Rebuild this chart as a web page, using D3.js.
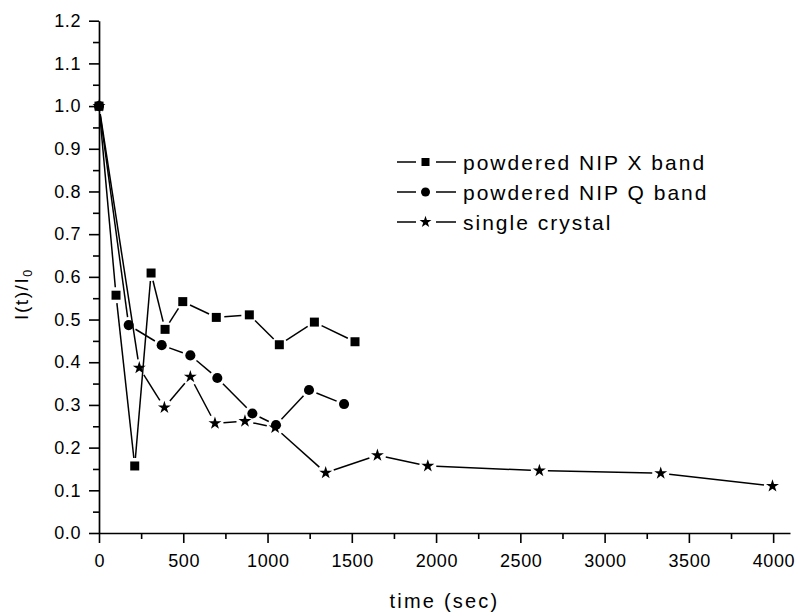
<!DOCTYPE html>
<html>
<head>
<meta charset="utf-8">
<script src="https://cdn.jsdelivr.net/npm/d3@7"></script>
<style>
  html, body { margin: 0; padding: 0; background: #fff; }
  svg { display: block; }
  text { font-family: "Liberation Sans", Arial, sans-serif; fill: #000; }
</style>
</head>
<body>
<svg id="chart" width="798" height="615"></svg>
<script>
// Decay of the normalised signal intensity I(t)/I0 with time
const xbandTime = [0, 101, 212, 309, 392, 497, 696, 892, 1070, 1278, 1519];
const xbandValue = [1.0, 0.557, 0.157, 0.609, 0.477, 0.542, 0.505, 0.511, 0.441, 0.494, 0.448];

const qbandTime = [0, 176, 372, 542, 702, 910, 1050, 1246, 1454];
const qbandValue = [1.0, 0.487, 0.440, 0.416, 0.363, 0.280, 0.253, 0.335, 0.302];

const crystalTime = [0, 239, 388, 542, 688, 866, 1045, 1345, 1652, 1951, 2613, 3333, 3996];
const crystalValue = [1.0, 0.387, 0.294, 0.366, 0.257, 0.262, 0.247, 0.141, 0.182, 0.157, 0.146, 0.140, 0.110];

const seriesNames = ["powdered NIP X band", "powdered NIP Q band", "single crystal"];

const xTicks = [0, 500, 1000, 1500, 2000, 2500, 3000, 3500, 4000];
const yTicks = [0.0, 0.1, 0.2, 0.3, 0.4, 0.5, 0.6, 0.7, 0.8, 0.9, 1.0, 1.1, 1.2];

const xTitle = "time (sec)";

const svg = d3.select("#chart");
const plotLeft = 99, plotRight = 790, plotTop = 20.7, plotBottom = 533;

const x = d3.scaleLinear().domain([0, 4100]).range([plotLeft, plotRight]);
const y = d3.scaleLinear().domain([0, 1.2]).range([plotBottom, plotTop]);

const series = [
  { name: seriesNames[0], t: xbandTime, v: xbandValue, shape: d3.symbolSquare, size: 81, gap: 8 },
  { name: seriesNames[1], t: qbandTime, v: qbandValue, shape: d3.symbolCircle, size: 80, gap: 8 },
  { name: seriesNames[2], t: crystalTime, v: crystalValue, shape: d3.symbolStar, size: 52, gap: 8.5 }
];

// --- axes -------------------------------------------------------------
const axisColor = "#000";

function styleAxis(g) {
  g.selectAll("path.domain").attr("stroke", axisColor).attr("stroke-width", 1.7);
  g.selectAll(".tick line").attr("stroke", axisColor).attr("stroke-width", 1.6);
  g.selectAll(".tick text")
    .style("font-size", "18px")
    .style("letter-spacing", "0.6px")
    .attr("fill", "#000");
}

// minor ticks
const xMinor = d3.range(250, 4100, 500);
const yMinor = d3.range(0.05, 1.2, 0.1);

svg.append("g")
  .attr("transform", `translate(0,${plotBottom})`)
  .call(d3.axisBottom(x).tickValues(xMinor).tickSize(6).tickFormat("").tickSizeOuter(0))
  .call(g => g.select("path.domain").remove())
  .call(g => g.selectAll(".tick line").attr("stroke", axisColor).attr("stroke-width", 1.6));

svg.append("g")
  .attr("transform", `translate(${plotLeft},0)`)
  .call(d3.axisLeft(y).tickValues(yMinor).tickSize(6).tickFormat("").tickSizeOuter(0))
  .call(g => g.select("path.domain").remove())
  .call(g => g.selectAll(".tick line").attr("stroke", axisColor).attr("stroke-width", 1.6));

const gx = svg.append("g")
  .attr("transform", `translate(0,${plotBottom})`)
  .call(d3.axisBottom(x).tickValues(xTicks).tickSize(10).tickPadding(11)
    .tickFormat(d3.format("d")).tickSizeOuter(0))
  .call(styleAxis);
gx.selectAll(".tick text").attr("dx", "0.3px");

const gy = svg.append("g")
  .attr("transform", `translate(${plotLeft},0)`)
  .call(d3.axisLeft(y).tickValues(yTicks).tickSize(10).tickPadding(8)
    .tickFormat(d3.format(".1f")).tickSizeOuter(0))
  .call(styleAxis);

// axis titles
svg.append("text")
  .attr("x", (plotLeft + plotRight) / 2)
  .attr("y", 608)
  .attr("text-anchor", "middle")
  .style("font-size", "20px")
  .style("letter-spacing", "2.2px")
  .text(xTitle);

const yTitle = svg.append("text")
  .attr("transform", "translate(28,320) rotate(-90)")
  .attr("text-anchor", "start")
  .style("font-size", "19px")
  .style("letter-spacing", "1.6px");
yTitle.append("tspan").text("I(t)/I");
yTitle.append("tspan")
  .attr("dy", "4")
  .style("font-size", "12.5px")
  .style("letter-spacing", "0px")
  .text("0");

// --- data -------------------------------------------------------------
function gappedSegments(pts, gap) {
  const segs = [];
  for (let i = 0; i < pts.length - 1; i++) {
    const [x1, y1] = pts[i], [x2, y2] = pts[i + 1];
    const dx = x2 - x1, dy = y2 - y1;
    const L = Math.hypot(dx, dy);
    if (L <= 2 * gap) continue;
    const ux = dx / L, uy = dy / L;
    segs.push([x1 + ux * gap, y1 + uy * gap, x2 - ux * gap, y2 - uy * gap]);
  }
  return segs;
}

const plot = svg.append("g");

series.forEach(s => {
  const pts = s.t.map((t, i) => [x(t), y(s.v[i])]);
  const g = plot.append("g");
  g.selectAll("line")
    .data(gappedSegments(pts, s.gap))
    .join("line")
    .attr("x1", d => d[0]).attr("y1", d => d[1])
    .attr("x2", d => d[2]).attr("y2", d => d[3])
    .attr("stroke", "#000")
    .attr("stroke-width", 1.5);
  g.selectAll("path")
    .data(pts)
    .join("path")
    .attr("transform", d => `translate(${d[0]},${d[1]})`)
    .attr("d", d3.symbol(s.shape, s.size))
    .attr("fill", "#000");
});

// --- legend -----------------------------------------------------------
const legend = svg.append("g");
const legendRows = [162, 192, 222];
const legendSizes = [64, 64, 44];

series.forEach((s, i) => {
  const row = legend.append("g").attr("transform", `translate(0,${legendRows[i]})`);
  row.append("line").attr("x1", 397).attr("x2", 416).attr("y1", 0).attr("y2", 0)
    .attr("stroke", "#000").attr("stroke-width", 1.5);
  row.append("line").attr("x1", 436).attr("x2", 456).attr("y1", 0).attr("y2", 0)
    .attr("stroke", "#000").attr("stroke-width", 1.5);
  row.append("path")
    .attr("transform", "translate(425.5,0)")
    .attr("d", d3.symbol(s.shape, legendSizes[i]))
    .attr("fill", "#000");
  row.append("text")
    .attr("x", 463)
    .attr("y", 0)
    .attr("dy", "0.36em")
    .style("font-size", "21px")
    .style("letter-spacing", "2px")
    .text(s.name);
});
</script>
</body>
</html>
